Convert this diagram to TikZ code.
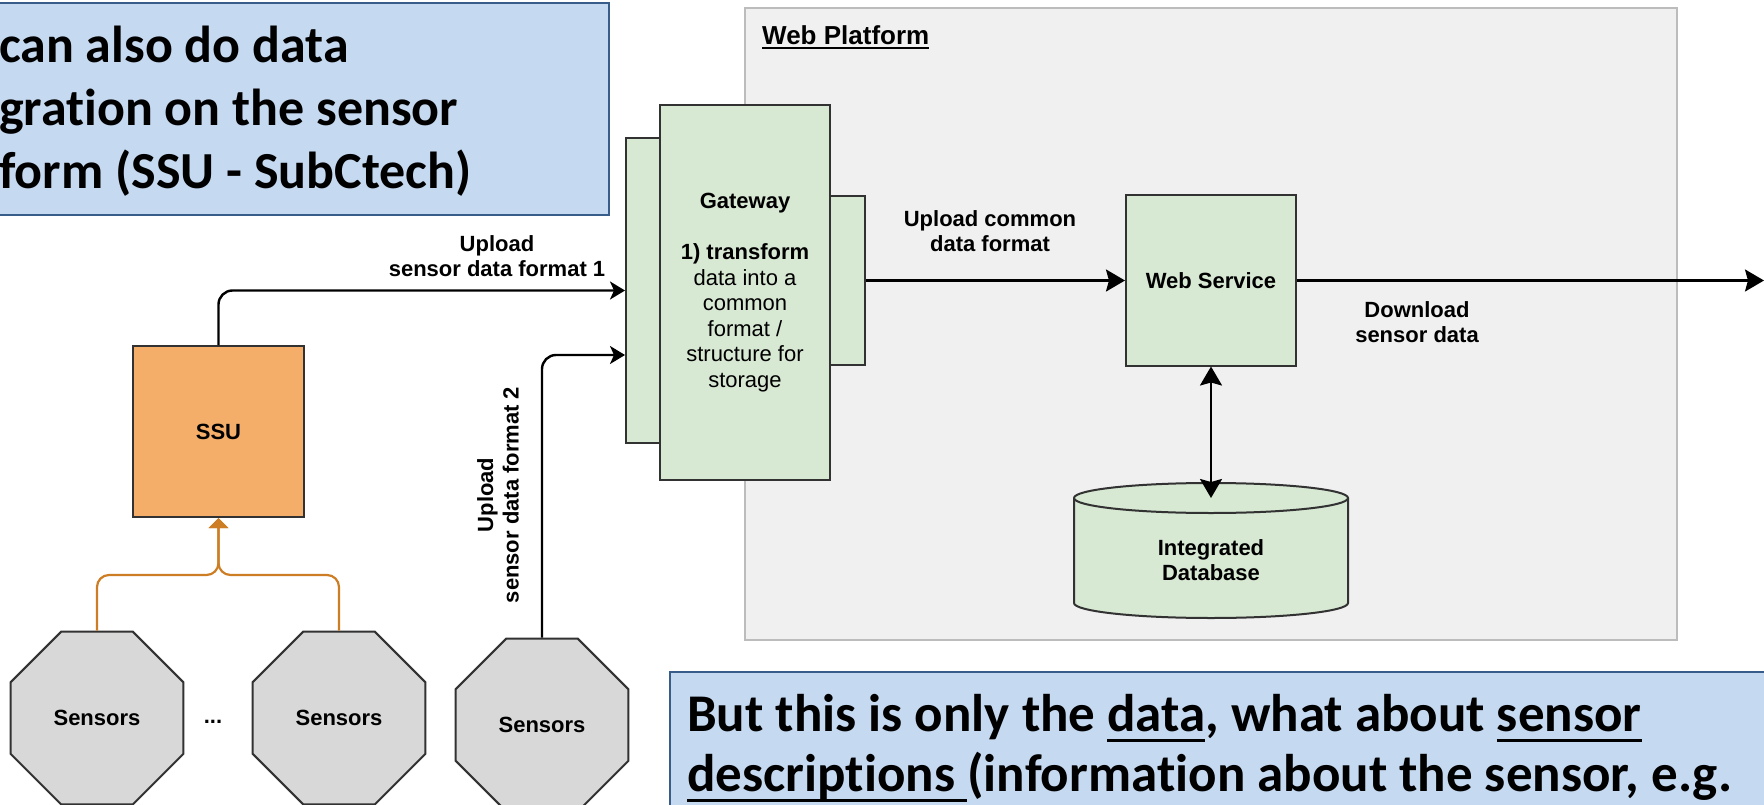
\documentclass[tikz,border=0pt]{standalone}
\usepackage{fontspec}
\usetikzlibrary{arrows.meta,shapes.geometric,calc}
\newfontfamily\calfont[Ligatures=NoCommon]{Carlito}
\newfontfamily\diafont{Liberation Sans}
\definecolor{callfill}{RGB}{197,217,241}
\definecolor{calldraw}{RGB}{56,93,138}
\definecolor{platfill}{RGB}{240,240,240}
\definecolor{platdraw}{RGB}{188,188,188}
\definecolor{boxgreen}{RGB}{215,232,211}
\definecolor{boxorange}{RGB}{244,174,106}
\definecolor{boxgray}{RGB}{216,216,216}
\definecolor{edgedark}{RGB}{50,50,50}
\definecolor{linkorange}{RGB}{205,125,35}
% underline with a given depth below the baseline and thickness
\newlength\ulwd
\newcommand\myul[3]{\settowidth\ulwd{#3}\rlap{\rule[-#1]{\ulwd}{#2}}#3}

\begin{document}
\begin{tikzpicture}[x=1pt,y=-1pt,
  callout/.style={fill=callfill, draw=calldraw, line width=1.6pt},
  calltext/.style={font=\calfont\bfseries\fontsize{52}{63}\selectfont, anchor=base west, inner sep=0pt},
  dreg/.style={font=\diafont\fontsize{22}{25.5}\selectfont, align=center},
  dbold/.style={font=\diafont\bfseries\fontsize{22}{25.5}\selectfont, align=center, inner sep=0pt},
  greenbox/.style={draw=edgedark, fill=boxgreen, line width=2pt, inner sep=0pt},
  unitbox/.style={draw=edgedark, fill=boxorange, line width=2pt, inner sep=0pt},
  sensor/.style={regular polygon, regular polygon sides=8, minimum size=187pt,
    draw=edgedark, fill=boxgray, line width=2pt, inner sep=0pt,
    font=\diafont\bfseries\fontsize{22}{25.5}\selectfont},
  link/.style={draw=black, line width=2.4pt, rounded corners=14pt,
    -{Stealth[length=15pt,width=18pt,inset=4pt]}},
  biglink/.style={draw=black, line width=2.4pt,
    -{Stealth[length=19pt,width=22pt,inset=3pt]}},
  olink/.style={draw=linkorange, line width=2.2pt, rounded corners=12pt,
    -{Triangle[length=10pt,width=19pt]}}
]
\useasboundingbox (0,0) rectangle (1764,805);
\fill[white] (0,0) rectangle (1764,805);
\clip (0,0) rectangle (1764,805);

% web platform container
\path[fill=platfill, draw=platdraw, line width=2pt] (745,8) rectangle (1677,640);
\node[anchor=base west, inner sep=0pt, font=\diafont\bfseries\fontsize{26}{30}\selectfont]
  (wplabel) at (762,45) {\myul{4pt}{2pt}{Web Platform}};

% gateway: stacked boxes
\node[greenbox, minimum width=36pt, minimum height=304pt] (gwb) at (644,290.5) {};
\node[greenbox, minimum width=35pt, minimum height=169pt] (gwr) at (847.5,280.5) {};
\node[greenbox, dreg, minimum width=170pt, minimum height=375pt] (gw) at (745,292.5)
  {\textbf{Gateway}\\[25.5pt] \textbf{1) transform}\\ data into a\\ common\\ format /\\ structure for\\ storage};

% web service and database
\node[greenbox, dbold, minimum width=170pt, minimum height=170pt] (ws) at (1211,280.5) {Web Service};
\path[fill=boxgreen, draw=edgedark, line width=2pt]
  (1074,498) -- (1074,603) arc[start angle=180, end angle=360, x radius=137pt, y radius=15pt]
  -- (1348,498) arc[start angle=0, end angle=180, x radius=137pt, y radius=15pt] -- cycle;
\draw[edgedark, line width=2pt] (1074,498) arc[start angle=180, end angle=360, x radius=137pt, y radius=15pt];
\node[dbold] (db) at (1211,560) {Integrated\\Database};
\coordinate (dbtop) at (1211,498);

% SSU and sensors
\node[unitbox, dbold, minimum width=171pt, minimum height=171pt] (ssu) at (218.5,431.5) {SSU};
\node[sensor] (s1) at (97,718) {Sensors};
\node[sensor] (s2) at (339,718) {Sensors};
\node[sensor] (s3) at (542,725) {Sensors};
\node[dbold, anchor=base] (dots) at (213,723) {...};

% connectors
\coordinate (join) at ([yshift=-57pt]ssu.south);
\draw[olink] (s1.north) |- (join) -- (ssu.south);
\draw[olink] (s2.north) |- (join) -- (ssu.south);
\draw[link] (ssu.north) |- (gwb.west);
\coordinate (in2) at ([yshift=-64.5pt]gwb.west);
\draw[link] (s3.north) |- (in2);
\draw[biglink] (gwr.east) -- (ws.west);
\coordinate (out) at (1764,280.5);
\draw[biglink] (ws.east) -- (out);
\draw[biglink, {Stealth[length=19pt,width=22pt,inset=3pt]}-{Stealth[length=19pt,width=22pt,inset=3pt]}] (ws.south) -- (dbtop);

% connector labels
\node[dbold] (lab1) at (497,256) {Upload\\sensor data format 1};
\node[dbold, rotate=90] (lab2) at (498,495) {Upload\\sensor data format 2};
\node[dbold] (lab3) at (990,231) {Upload common\\data format};
\node[dbold] (lab4) at (1417,322) {Download\\sensor data};

% note boxes
\path[callout] (-5,3) rectangle (609,215);
\node[calltext] (n1) at (-1,63) {can also do data};
\node[calltext] (n2) at (-1,126) {gration on the sensor};
\node[calltext] (n3) at (-1,189) {form (SSU - SubCtech)};

\path[callout] (670,672) rectangle (1780,820);
\node[calltext, font=\calfont\bfseries\fontsize{53}{60}\selectfont] (m1) at (687,731)
  {But this is only the \myul{11pt}{3pt}{data}, what about \myul{11pt}{3pt}{sensor}};
\node[calltext, font=\calfont\bfseries\fontsize{53}{60}\selectfont] (m2) at (687,791)
  {\myul{11pt}{3pt}{descriptions\ }(information about the sensor, e.g.};
\end{tikzpicture}
\end{document}
